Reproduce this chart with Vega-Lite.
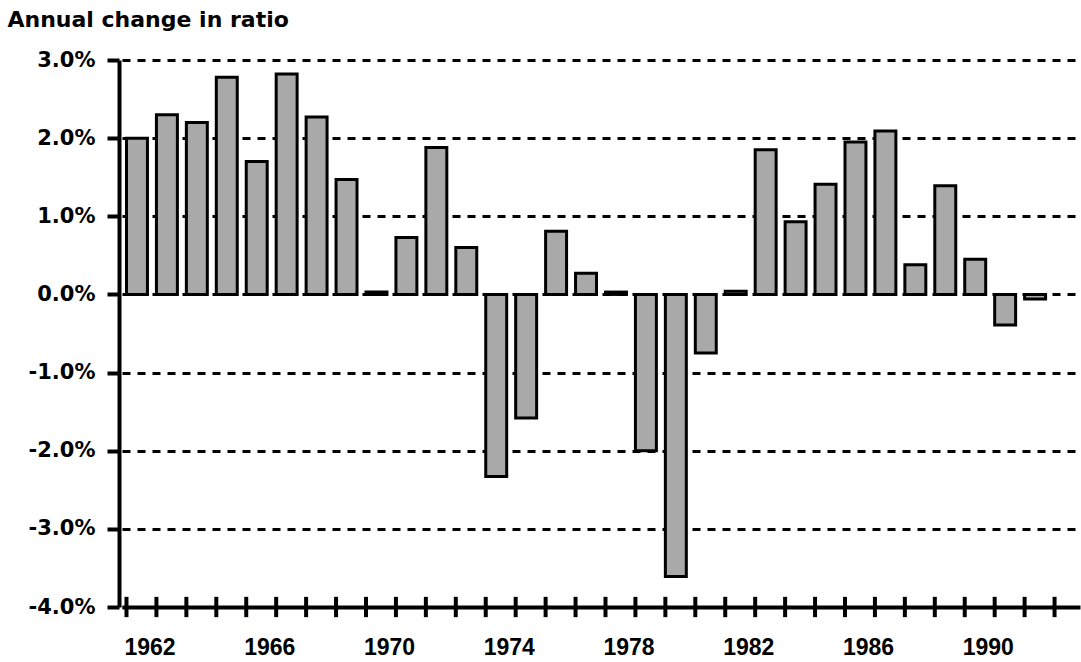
{
  "$schema": "https://vega.github.io/schema/vega-lite/v6.json",
  "width": 958,
  "height": 547,
  "autosize": {"type": "none"},
  "padding": {"left": 122, "top": 60, "right": 1, "bottom": 55},
  "background": "white",
  "config": {"view": {"stroke": null}, "font": "DejaVu Sans"},
  "data": {
    "values": [
      {"year": 1962, "value": 2.0},
      {"year": 1963, "value": 2.3},
      {"year": 1964, "value": 2.2},
      {"year": 1965, "value": 2.78},
      {"year": 1966, "value": 1.7},
      {"year": 1967, "value": 2.82},
      {"year": 1968, "value": 2.27},
      {"year": 1969, "value": 1.47},
      {"year": 1970, "value": 0.03},
      {"year": 1971, "value": 0.73},
      {"year": 1972, "value": 1.88},
      {"year": 1973, "value": 0.6},
      {"year": 1974, "value": -2.33},
      {"year": 1975, "value": -1.58},
      {"year": 1976, "value": 0.81},
      {"year": 1977, "value": 0.27},
      {"year": 1978, "value": 0.03},
      {"year": 1979, "value": -2.0},
      {"year": 1980, "value": -3.61},
      {"year": 1981, "value": -0.75},
      {"year": 1982, "value": 0.04},
      {"year": 1983, "value": 1.85},
      {"year": 1984, "value": 0.93},
      {"year": 1985, "value": 1.41},
      {"year": 1986, "value": 1.95},
      {"year": 1987, "value": 2.09},
      {"year": 1988, "value": 0.38},
      {"year": 1989, "value": 1.39},
      {"year": 1990, "value": 0.45},
      {"year": 1991, "value": -0.39},
      {"year": 1992, "value": -0.06},
      {"year": 1993, "value": null}
    ]
  },
  "encoding": {
    "x": {
      "field": "year",
      "type": "ordinal",
      "scale": {"paddingInner": 0.3, "paddingOuter": 0.15},
      "axis": {
        "title": null,
        "values": [1962, 1966, 1970, 1974, 1978, 1982, 1986, 1990],
        "labelAngle": 0,
        "labelFont": "Liberation Sans",
        "labelFontWeight": "bold",
        "labelFontSize": 23,
        "labelColor": "black",
        "labelOffset": 13,
        "labelBaseline": "alphabetic",
        "labelPadding": 47,
        "ticks": false,
        "tickSize": 0,
        "domainColor": "black",
        "domainWidth": 4,
        "zindex": 1
      }
    }
  },
  "layer": [
    {
      "mark": {"type": "bar", "fill": "#a9a9a9", "stroke": "black", "strokeWidth": 3},
      "encoding": {
        "y": {
          "field": "value",
          "type": "quantitative",
          "scale": {"domain": [-4, 3], "nice": false, "zero": false},
          "axis": {
            "title": "Annual change in ratio",
            "titleAngle": 0,
            "titleAlign": "left",
            "titleBaseline": "alphabetic",
            "titleX": -112,
            "titleY": -34,
            "titleFont": "DejaVu Sans",
            "titleFontSize": 22,
            "titleFontWeight": "bold",
            "titleColor": "black",
            "offset": 3,
            "values": [-4, -3, -2, -1, 0, 1, 2, 3],
            "labelExpr": "(datum.value < 0 ? '-' : '') + format(abs(datum.value), '.1f') + '%'",
            "labelFont": "DejaVu Sans",
            "labelFontSize": 21,
            "labelFontWeight": "bold",
            "labelColor": "black",
            "labelPadding": 12,
            "tickSize": 12,
            "tickWidth": 4,
            "tickColor": "black",
            "domainColor": "black",
            "domainWidth": 4,
            "grid": true,
            "gridColor": "black",
            "gridWidth": 3,
            "gridDash": [8, 7],
            "zindex": 0
          }
        }
      }
    },
    {
      "mark": {"type": "rule", "stroke": "black", "strokeWidth": 4},
      "encoding": {
        "x": {"field": "year", "type": "ordinal", "bandPosition": 0},
        "y": {"datum": -4.13},
        "y2": {"datum": -3.87}
      }
    }
  ]
}
